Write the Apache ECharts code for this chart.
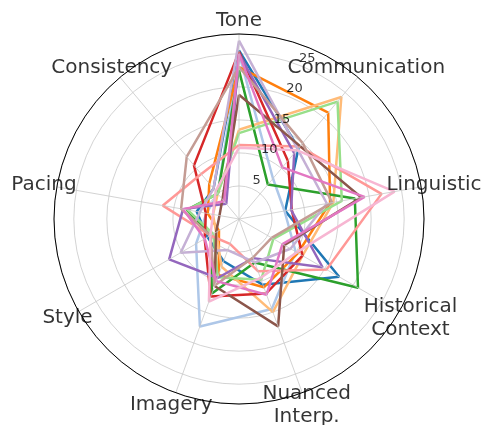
<!DOCTYPE html>
<html>
<head>
<meta charset="utf-8">
<script src="https://cdn.jsdelivr.net/npm/echarts@6/dist/echarts.min.js"></script>
<style>
  html, body { margin: 0; padding: 0; background: #fff; }
  #chart { width: 484px; height: 425px; }
</style>
</head>
<body>
<div id="chart"></div>
<script>
// axes of the radar, clockwise from the top
const categories = ['Tone', 'Communication', 'Linguistic', 'Historical\nContext', 'Nuanced\nInterp.', 'Imagery', 'Style', 'Pacing', 'Consistency'];
const tickLabels = [5, 10, 15, 20, 25];
const rMax = 28;

// one array per model, values in category order
const blue        = [25.5, 14.0, 7.1, 17.5, 10.6, 6.8, 5.5, 6.5, 6.0];
const lightBlue   = [25.0, 8.0, 7.0, 9.9, 14.5, 17.3, 7.5, 5.0, 5.0];
const orange      = [23.0, 21.0, 14.0, 10.3, 11.0, 9.0, 3.5, 4.8, 7.0];
const lightOrange = [13.5, 24.1, 14.5, 11.1, 15.0, 7.7, 4.0, 4.0, 5.0];
const green       = [22.5, 6.8, 17.8, 20.8, 7.0, 12.0, 5.0, 8.0, 5.0];
const lightGreen  = [13.0, 23.2, 15.8, 6.0, 9.8, 9.4, 4.5, 7.9, 5.0];
const red         = [25.3, 11.5, 8.1, 11.1, 12.0, 12.5, 6.0, 5.1, 10.6];
const lightRed    = [11.2, 14.3, 21.9, 15.3, 8.4, 4.0, 5.0, 11.7, 8.9];
const purple      = [25.0, 13.0, 8.0, 14.6, 6.3, 9.5, 12.2, 8.6, 3.0];
const lightPurple = [27.0, 13.8, 13.5, 9.0, 7.0, 5.0, 10.2, 6.0, 6.0];
const brown       = [18.8, 14.4, 18.8, 7.9, 17.3, 10.8, 4.0, 3.0, 3.9];
const lightBrown  = [23.0, 15.0, 14.3, 5.7, 6.2, 10.7, 5.0, 8.9, 12.3];
const pink        = [25.0, 10.2, 19.3, 7.6, 12.2, 10.0, 6.0, 8.6, 3.5];
const lightPink   = [10.8, 13.6, 23.9, 10.1, 9.5, 13.3, 5.0, 4.0, 5.5];

const allSeries = [blue, lightBlue, orange, lightOrange, green, lightGreen, red, lightRed,
                   purple, lightPurple, brown, lightBrown, pink, lightPink];
const colors = ['#1f77b4', '#aec7e8', '#ff7f0e', '#ffbb78', '#2ca02c', '#98df8a', '#d62728', '#ff9896',
                '#9467bd', '#c5b0d5', '#8c564b', '#c49c94', '#e377c2', '#f7b6d2'];

const step = 360 / categories.length;
const center = [239, 219];
const font = 'DejaVu Sans';

const chart = echarts.init(document.getElementById('chart'));

const lines = allSeries.map((vals, k) => {
  const pts = vals.map((v, i) => [v, i * step]);
  pts.push([vals[0], 360]); // close the polygon
  return {
    type: 'line',
    coordinateSystem: 'polar',
    polarIndex: 0,
    data: pts,
    symbol: 'none',
    color: colors[k],
    lineStyle: { width: 2.5, color: colors[k] },
    z: 2 + k * 0.01
  };
});

const option = {
  animation: false,
  polar: [
    { center: center, radius: 185 },
    { center: center, radius: 198 }
  ],
  angleAxis: [
    {
      polarIndex: 0, type: 'value', min: 0, max: 360, interval: step,
      startAngle: 90, clockwise: true, z: 5,
      axisLine: { show: true, lineStyle: { color: '#000', width: 1 } },
      axisTick: { show: false },
      axisLabel: { show: false },
      splitLine: { show: true, lineStyle: { color: '#c8c8c8', width: 0.8 } }
    },
    { polarIndex: 1, type: 'value', min: 0, max: 360, startAngle: 90, show: false }
  ],
  radiusAxis: [
    {
      polarIndex: 0, type: 'value', min: 0, max: rMax, interval: 5,
      axisLine: { show: false },
      axisTick: { show: false },
      axisLabel: { show: false },
      splitLine: { show: true, lineStyle: { color: '#c8c8c8', width: 0.8 } }
    },
    { polarIndex: 1, type: 'value', min: 0, max: 1, show: false }
  ],
  series: [
    ...lines,
    {
      // radial tick labels, set 22.5 degrees clockwise from Tone
      type: 'scatter', coordinateSystem: 'polar', polarIndex: 0,
      data: tickLabels.map(v => [v, 22.5]),
      symbolSize: 0, clip: false, silent: true, z: 10,
      label: {
        show: true, position: 'inside', offset: [5, -8],
        formatter: p => String(p.value[0]),
        fontFamily: font, fontSize: 13, color: '#000'
      }
    },
    {
      // category names around the outside
      type: 'scatter', coordinateSystem: 'polar', polarIndex: 1,
      data: categories.map((c, i) => [1, i * step]),
      symbolSize: 0, clip: false, silent: true, z: 10,
      label: {
        show: true, position: 'inside', align: 'center',
        formatter: p => categories[p.dataIndex],
        fontFamily: font, fontSize: 20, lineHeight: 23, color: '#000'
      }
    }
  ]
};

chart.setOption(option);
</script>
</body>
</html>
